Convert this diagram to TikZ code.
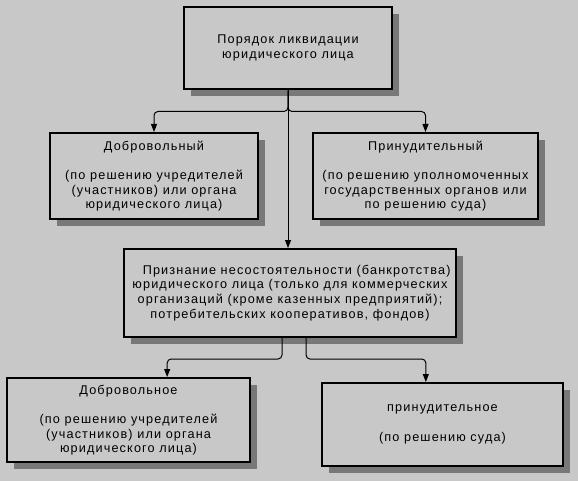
\documentclass[tikz,border=0pt]{standalone}
\usepackage{fontspec}
\setmainfont{Liberation Sans}[LetterSpace=9]
\usetikzlibrary{arrows.meta,shadows}
\definecolor{fon}{RGB}{200,200,200}
\definecolor{ten}{RGB}{120,120,120}
\begin{document}
\begin{tikzpicture}[x=0.75pt,y=-0.75pt,font=\fontsize{9.5}{11}\selectfont,
	blok/.style={draw,line width=1.5pt,fill=fon,align=center,inner sep=2pt,
		drop shadow={shadow xshift=5pt,shadow yshift=-5pt,fill=ten,opacity=1}},
	strelka/.style={line width=0.75pt,rounded corners=3pt,-{Triangle[length=6pt,width=4.5pt]}}]
	\fill[fon] (0,0) rectangle (578,481);
	\node[blok,line width=2.2pt,minimum width=156pt,minimum height=61.5pt] (top) at (288,48)
		{Порядок ликвидации\\юридического лица};
	\node[blok,minimum width=156pt,minimum height=64.5pt] (dobr) at (154,176)
		{Добровольный\\[11pt](по решению учредителей\\(участников) или органа\\юридического лица)};
	\node[blok,minimum width=168.75pt,minimum height=64.5pt] (prin) at (425.5,176)
		{Принудительный\\[11pt](по решению уполномоченных\\государственных органов или\\по решению суда)};
	\node[blok,minimum width=249pt,minimum height=66pt] (bankr) at (290,293)
		{\hspace*{10pt}Признание несостоятельности (банкротства)\\юридического лица (только для коммерческих\\организаций (кроме казенных предприятий);\\потребительских кооперативов, фондов)};
	\node[blok,minimum width=182.25pt,minimum height=63pt] (dobr2) at (128.5,420)
		{Добровольное\\[11pt](по решению учредителей\\(участников) или органа\\юридического лица)};
	\node[blok,minimum width=180.75pt,minimum height=62.25pt] (prin2) at (442.5,424.5)
		{принудительное\\[11pt](по решению суда)};
	% связи
	\draw[strelka] (top.south) -- ++(0,21) -| (dobr.north);
	\draw[strelka] (top.south) -- ++(0,21) -| (prin.north);
	\draw[strelka] (top.south) -- (top.south |- bankr.north);
	\draw[strelka] ([xshift=-6pt]bankr.south) -- ++(0,21) -| ([xshift=29pt]dobr2.north);
	\draw[strelka] ([xshift=12pt]bankr.south) -- ++(0,21) -| ([xshift=-12.5pt]prin2.north);
\end{tikzpicture}
\end{document}
